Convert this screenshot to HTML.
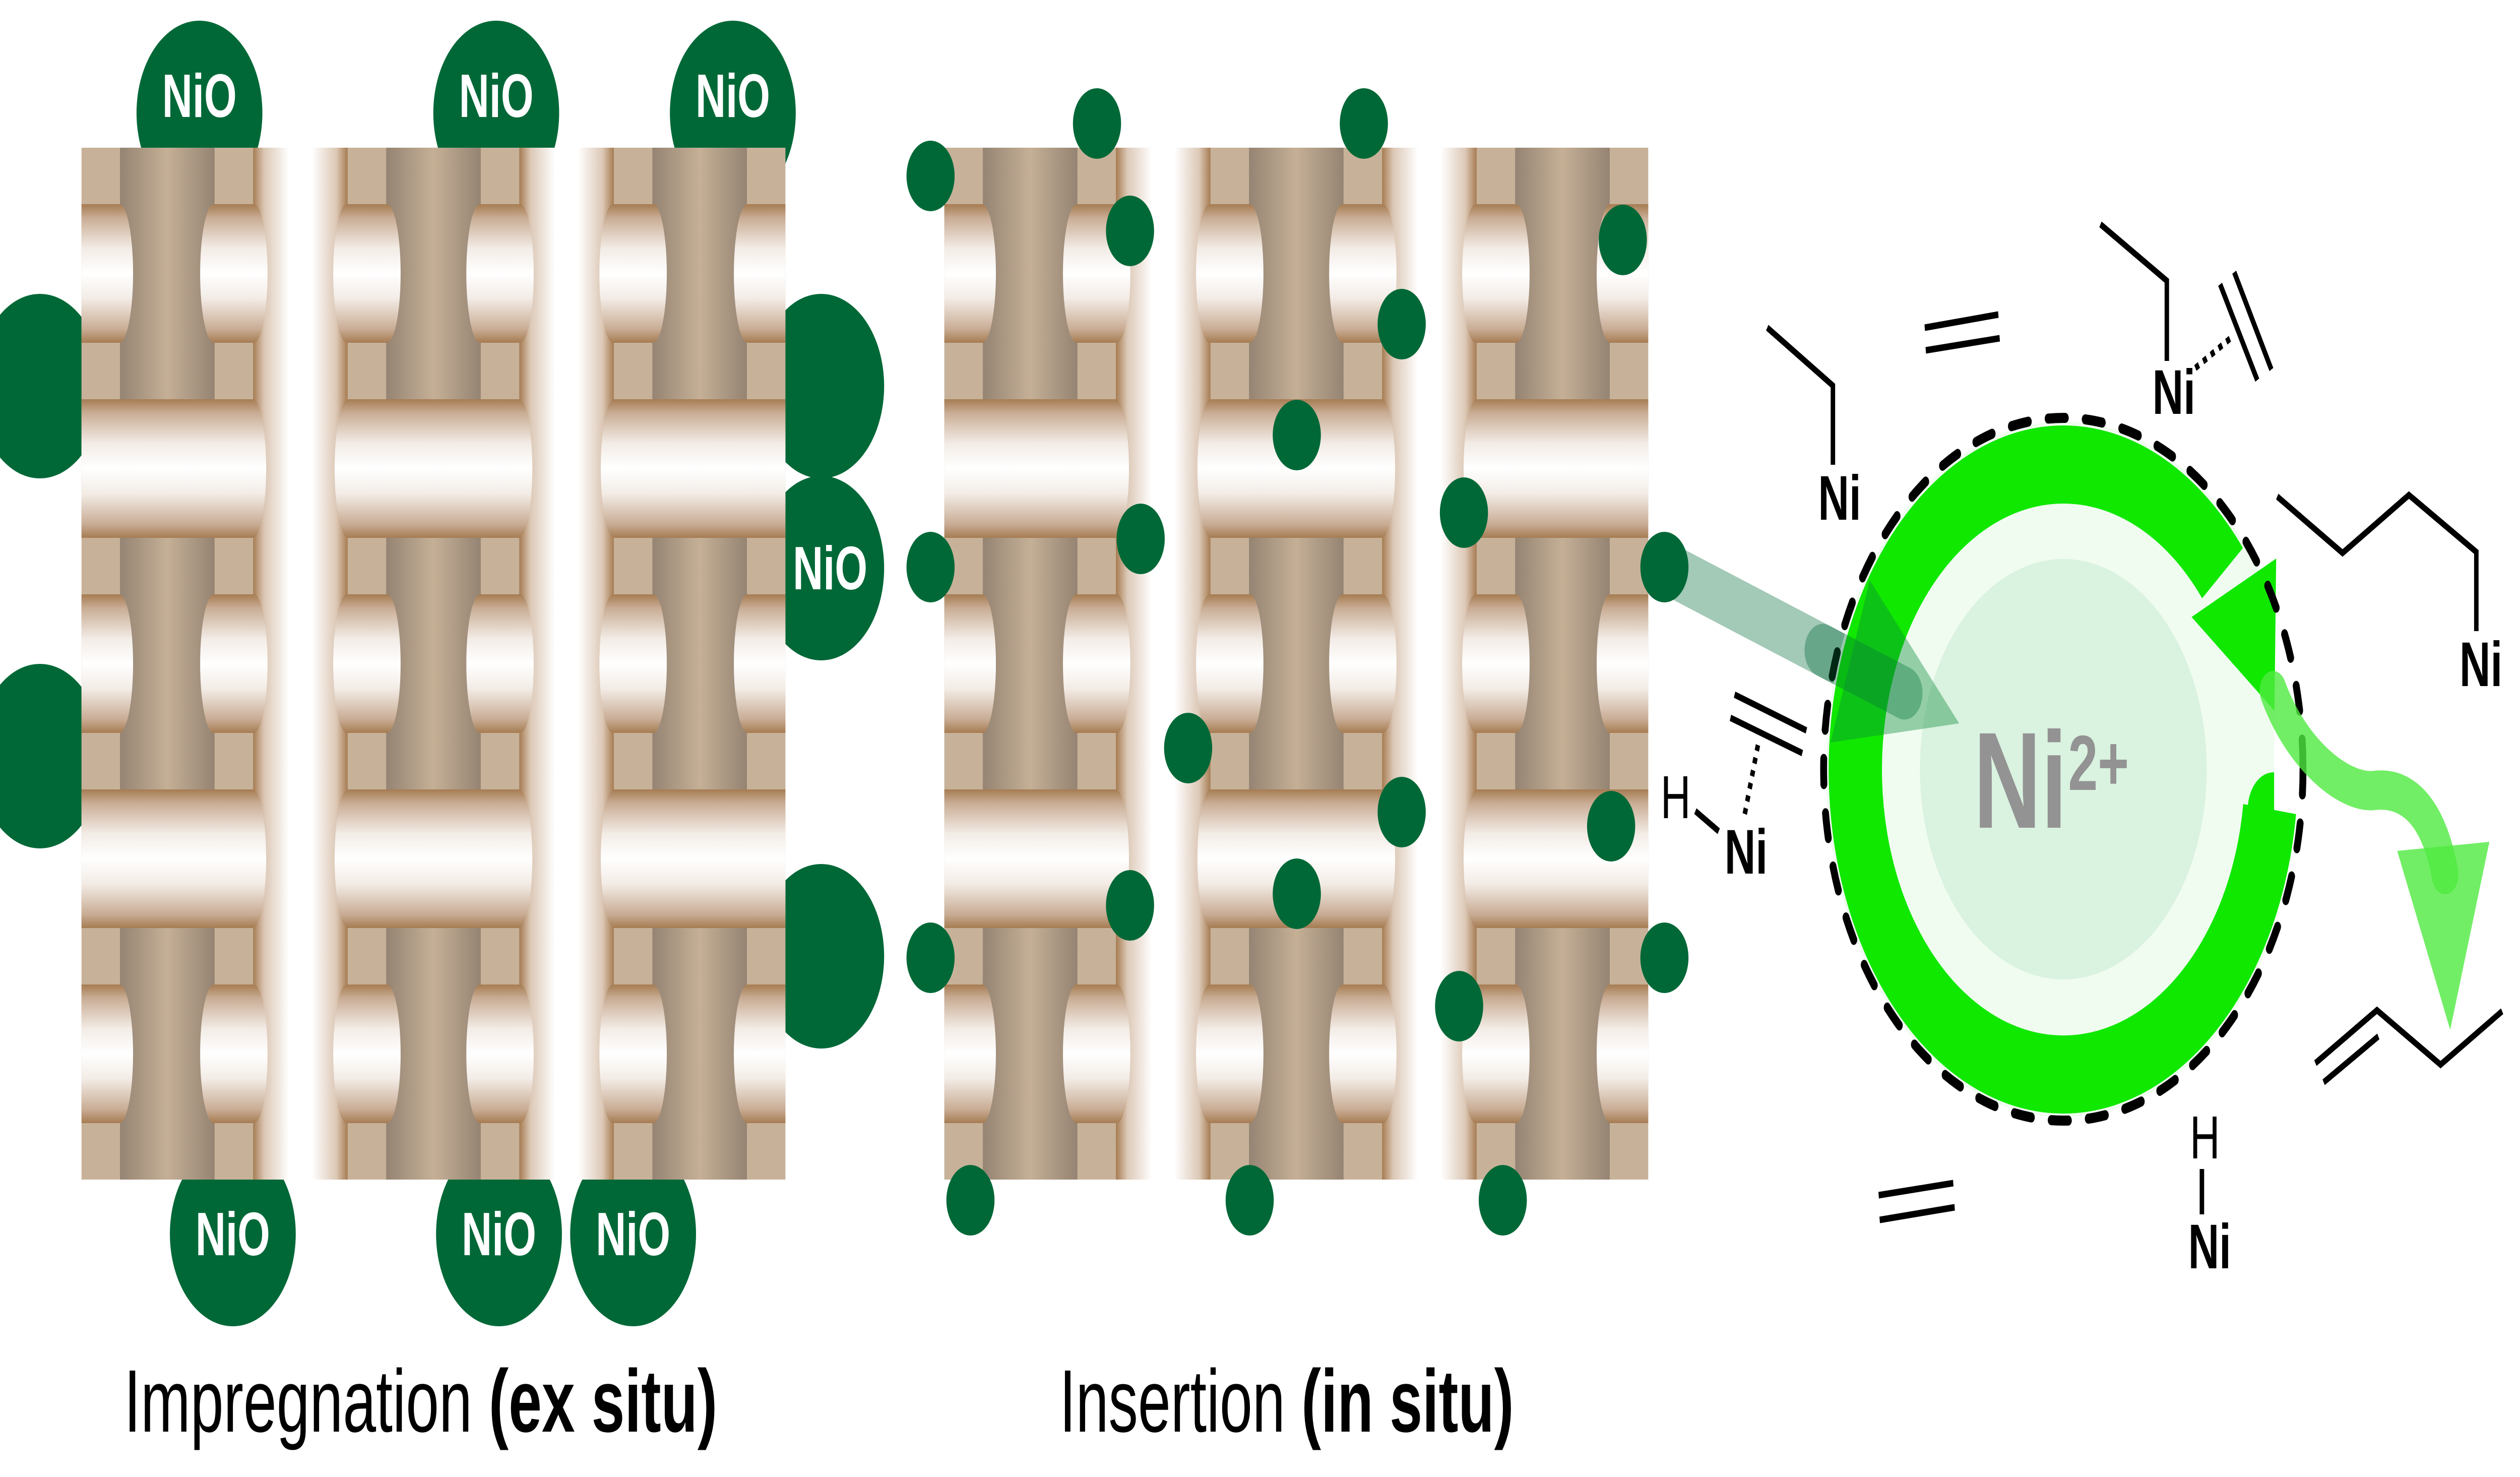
<!DOCTYPE html>
<html><head><meta charset="utf-8"><style>
html,body{margin:0;padding:0;background:#fff;width:100%;height:100%;overflow:hidden;}
svg{display:block;width:100vw;height:100vh;}
</style></head><body>
<svg viewBox="0 0 7328 2930" preserveAspectRatio="none" xmlns="http://www.w3.org/2000/svg">
<defs>
<linearGradient id="pil" x1="0" y1="0" x2="1" y2="0">
<stop offset="0" stop-color="#958473"/><stop offset="0.5" stop-color="#c5b096"/><stop offset="1" stop-color="#958473"/>
</linearGradient>
<linearGradient id="chan" x1="0" y1="0" x2="1" y2="0">
<stop offset="0" stop-color="#a67c52"/><stop offset="0.12" stop-color="#dcc8b6"/><stop offset="0.38" stop-color="#ffffff"/><stop offset="0.62" stop-color="#ffffff"/><stop offset="0.88" stop-color="#dcc8b6"/><stop offset="1" stop-color="#a67c52"/>
</linearGradient>
<linearGradient id="tube" x1="0" y1="0" x2="0" y2="1">
<stop offset="0" stop-color="#a67c52"/><stop offset="0.1" stop-color="#c9ad95"/><stop offset="0.32" stop-color="#f3ece6"/><stop offset="0.5" stop-color="#ffffff"/><stop offset="0.68" stop-color="#f3ece6"/><stop offset="0.9" stop-color="#c9ad95"/><stop offset="1" stop-color="#a67c52"/>
</linearGradient>
<g id="lat">
<rect x="0" y="0" width="2047" height="2047" fill="#c7b299"/>
<rect x="112" y="0" width="275" height="2047" fill="url(#pil)"/>
<rect x="886" y="0" width="275" height="2047" fill="url(#pil)"/>
<rect x="1660" y="0" width="275" height="2047" fill="url(#pil)"/>
<rect x="499" y="0" width="275" height="2047" fill="url(#chan)"/>
<rect x="1273" y="0" width="275" height="2047" fill="url(#chan)"/>
<g id="srow">
<path d="M0 112 H110 A40 137.5 0 0 1 110 387 H0 Z" fill="url(#tube)"/>
<path d="M385 112 H501 A40 137.5 0 0 1 501 387 H385 A40 137.5 0 0 1 385 112 Z" fill="url(#tube)"/>
<path d="M772 112 H888 A40 137.5 0 0 1 888 387 H772 A40 137.5 0 0 1 772 112 Z" fill="url(#tube)"/>
<path d="M1159 112 H1275 A40 137.5 0 0 1 1275 387 H1159 A40 137.5 0 0 1 1159 112 Z" fill="url(#tube)"/>
<path d="M1546 112 H1662 A40 137.5 0 0 1 1662 387 H1546 A40 137.5 0 0 1 1546 112 Z" fill="url(#tube)"/>
<path d="M1937 112 H2047 V387 H1937 A40 137.5 0 0 1 1937 112 Z" fill="url(#tube)"/>
</g>
<use href="#srow" transform="translate(0,774)"/>
<use href="#srow" transform="translate(0,1548)"/>
<g id="wrow">
<path d="M0 499 H497 A40 137.5 0 0 1 497 774 H0 Z" fill="url(#tube)"/>
<path d="M776 499 H1271 A40 137.5 0 0 1 1271 774 H776 A40 137.5 0 0 1 776 499 Z" fill="url(#tube)"/>
<path d="M1550 499 H2047 V774 H1550 A40 137.5 0 0 1 1550 499 Z" fill="url(#tube)"/>
</g>
<use href="#wrow" transform="translate(0,774)"/>
</g>
<clipPath id="cl"><rect x="0" y="0" width="6613" height="2930"/></clipPath>
</defs>

<g fill="#006837">
<circle cx="580" cy="224" r="183"/>
<circle cx="1443" cy="224" r="183"/>
<circle cx="2131" cy="224" r="183"/>
<circle cx="116" cy="766" r="183"/>
<circle cx="116" cy="1500" r="183"/>
<circle cx="2388" cy="766" r="183"/>
<circle cx="2388" cy="1127" r="183"/>
<circle cx="2388" cy="1897" r="183"/>
<circle cx="677" cy="2448" r="183"/>
<circle cx="1451" cy="2448" r="183"/>
<circle cx="1841" cy="2448" r="183"/>
</g>
<use href="#lat" transform="translate(237,293)"/>
<g font-family="Liberation Sans, sans-serif" font-weight="bold" font-size="122" fill="#fff" text-anchor="middle">
<text x="580" y="232">NiO</text>
<text x="1443" y="232">NiO</text>
<text x="2131" y="232">NiO</text>
<text x="2414" y="1169">NiO</text>
<text x="677" y="2490">NiO</text>
<text x="1451" y="2490">NiO</text>
<text x="1841" y="2490">NiO</text>
</g>
<text x="361" y="2840" font-family="Liberation Sans, sans-serif" font-size="176" fill="#000" textLength="1725" lengthAdjust="spacingAndGlyphs">Impregnation <tspan font-weight="bold">(ex situ)</tspan></text>

<use href="#lat" transform="translate(2746,293)"/>

<line x1="4840" y1="1125" x2="5538" y2="1375" stroke="#006837" stroke-opacity="0.36" stroke-width="105" stroke-linecap="round"/>

<g fill="#006837">
<circle cx="2706" cy="349" r="70"/><circle cx="3190" cy="245" r="70"/><circle cx="3286" cy="458" r="70"/>
<circle cx="3966" cy="245" r="70"/><circle cx="4076" cy="643" r="70"/><circle cx="3771" cy="863" r="70"/>
<circle cx="4719" cy="476" r="70"/><circle cx="3317" cy="1069" r="70"/><circle cx="4257" cy="1017" r="70"/>
<circle cx="2706" cy="1125" r="70"/><circle cx="4840" cy="1125" r="70"/><circle cx="3455" cy="1484" r="70"/>
<circle cx="4076" cy="1611" r="70"/><circle cx="4685" cy="1639" r="70"/><circle cx="3771" cy="1773" r="70"/>
<circle cx="3286" cy="1796" r="70"/><circle cx="2706" cy="1900" r="70"/><circle cx="4840" cy="1900" r="70"/>
<circle cx="4243" cy="1996" r="70"/><circle cx="2822" cy="2381" r="70"/><circle cx="3634" cy="2381" r="70"/>
<circle cx="4370" cy="2381" r="70"/>
</g>
<text x="3081" y="2840" font-family="Liberation Sans, sans-serif" font-size="176" fill="#000" textLength="1321" lengthAdjust="spacingAndGlyphs">Insertion <tspan font-weight="bold">(in situ)</tspan></text>

<circle cx="6000" cy="1526" r="690" fill="#f0fcf0" clip-path="url(#cl)"/>
<circle cx="6000" cy="1526" r="417" fill="#daf2e0"/>
<path d="M6600 1605 A605 605 0 1 1 6463 1137" fill="none" stroke="#10e800" stroke-width="155"/>
<circle cx="6611" cy="1607" r="75" fill="#10e800" clip-path="url(#cl)"/>
<polygon points="6373,1224 6619,1108 6614,1410" fill="#10e800"/>
<circle cx="6000" cy="1526" r="697" fill="none" stroke="#000" stroke-width="20" stroke-dasharray="50 58" stroke-linecap="round"/>

<line x1="5300" y1="1290" x2="5538" y2="1375" stroke="#006837" stroke-opacity="0.36" stroke-width="105" stroke-linecap="round"/>
<polygon points="5437,1151 5697,1435 5323,1473" fill="#0a8a3a" fill-opacity="0.4"/>

<text x="5739" y="1642" font-family="Liberation Sans, sans-serif" font-weight="bold" font-size="272" fill="#939393">Ni</text>
<text x="6014" y="1567" font-family="Liberation Sans, sans-serif" font-weight="bold" font-size="155" fill="#939393">2+</text>

<path d="M6610 1370 C6680 1500 6820 1575 6905 1568 C7010 1560 7080 1620 7110 1735" fill="none" stroke="#4fea40" stroke-opacity="0.8" stroke-width="78" stroke-linecap="round"/>
<polygon points="6971,1688 7239,1670 7125,2043" fill="#4fea40" fill-opacity="0.8"/>

<g stroke="#000" stroke-width="13" fill="none">
<polyline points="5139,650 5330,765 5330,922"/>
<line x1="5597" y1="650" x2="5811" y2="624"/><line x1="5600" y1="695" x2="5815" y2="671"/>
<polyline points="6108,445 6301,557 6301,716"/>
<line x1="6384" y1="730" x2="6493" y2="667" stroke-dasharray="12 14"/>
<line x1="6456" y1="564" x2="6564" y2="754"/><line x1="6497" y1="540" x2="6605" y2="733"/>
<polyline points="6622,985 6812,1097 7005,982 7201,1095 7201,1252"/>
<line x1="4930" y1="1609" x2="4998" y2="1649"/>
<line x1="5112" y1="1478" x2="5072" y2="1621" stroke-dasharray="12 14"/>
<line x1="5044" y1="1378" x2="5253" y2="1449"/><line x1="5032" y1="1424" x2="5241" y2="1494"/>
<line x1="5463" y1="2371" x2="5680" y2="2347"/><line x1="5466" y1="2420" x2="5684" y2="2395"/>
<line x1="6403" y1="2319" x2="6403" y2="2409"/>
<polyline points="6733,2109 6912,2004 7097,2112 7276,2006"/>
<line x1="6757" y1="2147" x2="6916" y2="2056"/>
</g>
<g font-family="Liberation Sans, sans-serif" fill="#000">
<text x="5287" y="1031" font-weight="bold" font-size="125">Ni</text>
<text x="6259" y="821" font-weight="bold" font-size="125">Ni</text>
<text x="7152" y="1361" font-weight="bold" font-size="125">Ni</text>
<text x="4829" y="1623" font-size="121">H</text>
<text x="5015" y="1733" font-weight="bold" font-size="125">Ni</text>
<text x="6368" y="2298" font-size="121">H</text>
<text x="6363" y="2516" font-weight="bold" font-size="125">Ni</text>
</g>
</svg>
</body></html>
